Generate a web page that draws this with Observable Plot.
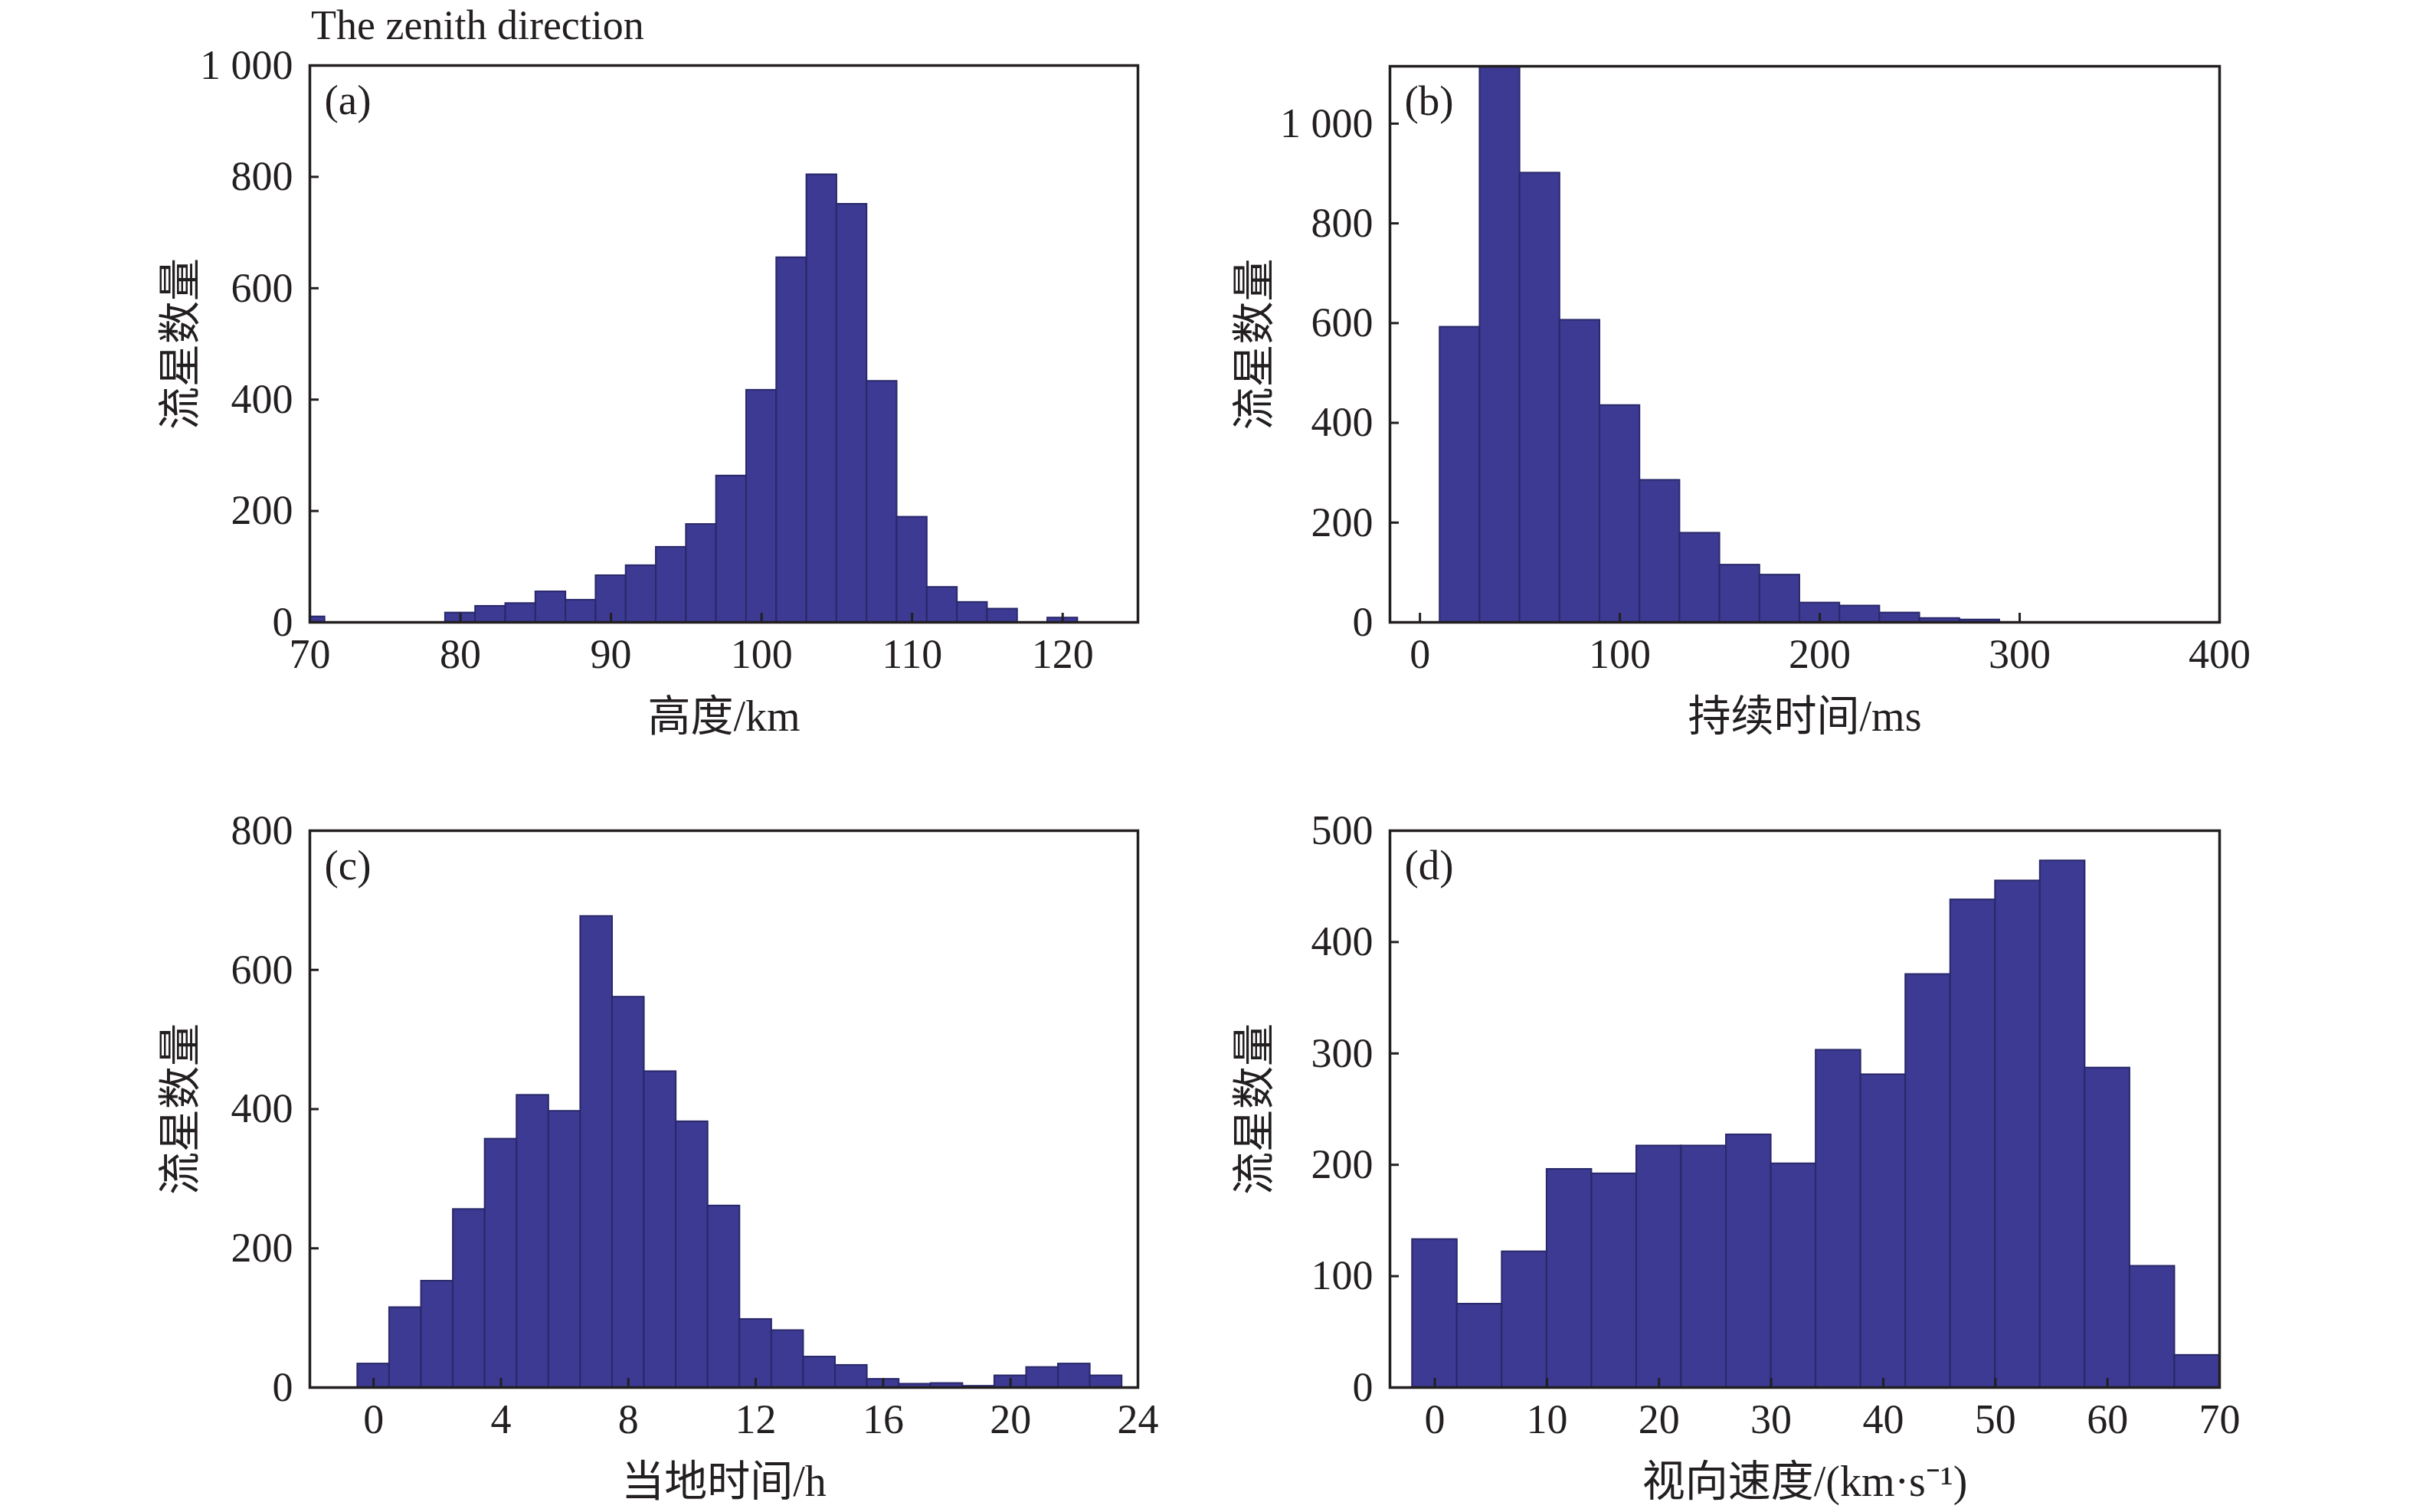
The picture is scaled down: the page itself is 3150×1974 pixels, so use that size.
<!DOCTYPE html>
<html>
<head>
<meta charset="utf-8">
<script src="https://cdn.jsdelivr.net/npm/d3@7"></script>
<script src="https://cdn.jsdelivr.net/npm/@observablehq/plot@0.6"></script>
<style>
  html, body { margin: 0; padding: 0; background: #fff; }
  #wrap { position: relative; width: 3150px; height: 1974px; background: #fff; overflow: hidden; }
  .panel { position: absolute; }
  #title { position: absolute; left: 406px; top: 4px; font-family: "Liberation Serif", "Noto Sans CJK SC", serif; font-size: 54px; line-height: 1.1; color: #231f20; white-space: nowrap; }
</style>
</head>
<body>
<div id="wrap">
  <div id="title">The zenith direction</div>
</div>
<script>
// ---------- data ----------
const titleText = "The zenith direction";
const yLabel = "流星数量";

// (a) height histogram, bins of 2 km (left edges)
const heightBinStart = [69, 79, 81, 83, 85, 87, 89, 91, 93, 95, 97, 99, 101, 103, 105, 107, 109, 111, 113, 115, 119];
const heightCount    = [10, 17, 29, 34, 55, 40, 84, 102, 135, 176, 263, 417, 655, 804, 751, 433, 189, 63, 36, 24, 8];
const heightBinWidth = 2;
const heightXTicks = [70, 80, 90, 100, 110, 120];
const heightYTicks = [0, 200, 400, 600, 800, 1000];

// (b) duration histogram, bins of 20 ms (left edges)
const durationBinStart = [10, 30, 50, 70, 90, 110, 130, 150, 170, 190, 210, 230, 250, 270];
const durationCount    = [592, 1115, 901, 606, 435, 285, 179, 115, 95, 39, 33, 19, 8, 5];
const durationBinWidth = 20;
const durationXTicks = [0, 100, 200, 300, 400];
const durationYTicks = [0, 200, 400, 600, 800, 1000];

// (c) local time histogram, bins of 1 h (centers)
const hourCenter = [0, 1, 2, 3, 4, 5, 6, 7, 8, 9, 10, 11, 12, 13, 14, 15, 16, 17, 18, 19, 20, 21, 22, 23];
const hourCount  = [34, 115, 153, 256, 357, 420, 397, 677, 561, 454, 382, 261, 98, 82, 44, 32, 12, 5, 6, 2, 17, 29, 34, 17];
const hourBinWidth = 1;
const hourXTicks = [0, 4, 8, 12, 16, 20, 24];
const hourYTicks = [0, 200, 400, 600, 800];

// (d) apparent velocity histogram, bins of 4 km/s (centers)
const speedCenter = [0, 4, 8, 12, 16, 20, 24, 28, 32, 36, 40, 44, 48, 52, 56, 60, 64, 68];
const speedCount  = [133, 75, 122, 196, 192, 217, 217, 227, 201, 303, 281, 371, 438, 455, 473, 287, 109, 29];
const speedBinWidth = 4;
const speedXTicks = [0, 10, 20, 30, 40, 50, 60, 70];
const speedYTicks = [0, 100, 200, 300, 400, 500];

// ---------- styling ----------
const FONT = `"Liberation Serif", "Noto Sans CJK SC", serif`;
const INK = "#231f20";
const BAR_FILL = "#3c3a92";
const BAR_STROKE = "#29286a";
const fmt = d => String(d).replace(/\B(?=(\d{3})+(?!\d))/g, " ");

function panel({tag, bins, xDomain, yDomain, xTicks, yTicks, xLabel, left, top, ml, mr, mt, mb, ylabDx}) {
  const W = 1575, H = 987;
  const chart = Plot.plot({
    width: W, height: H,
    marginLeft: ml, marginRight: mr, marginTop: mt, marginBottom: mb,
    style: {fontFamily: FONT, fontSize: "54px", color: INK, background: "transparent", overflow: "visible"},
    x: {domain: xDomain, axis: null},
    y: {domain: yDomain, axis: null},
    marks: [
      Plot.rectY(bins, {x1: "x1", x2: "x2", y: "count", fill: BAR_FILL, stroke: BAR_STROKE, strokeWidth: 2, clip: true}),
      // tick labels (no tick lines)
      Plot.axisX(xTicks, {anchor: "bottom", tickSize: 0, tickPadding: 21, tickFormat: fmt, fontSize: 54, label: null, fill: INK}),
      Plot.axisY(yTicks, {anchor: "left", tickSize: 0, tickPadding: 22, tickFormat: fmt, fontSize: 54, label: null, fill: INK}),
      // inward tick marks
      Plot.axisX(xTicks, {anchor: "bottom", tickSize: -12, tickFormat: () => "", label: null, stroke: INK, strokeWidth: 3}),
      Plot.axisY(yTicks, {anchor: "left", tickSize: -12, tickFormat: () => "", label: null, stroke: INK, strokeWidth: 3}),
      Plot.frame({stroke: INK, strokeWidth: 3.5}),
      Plot.text([tag], {frameAnchor: "top-left", dx: 19, dy: 46, textAnchor: "start", lineAnchor: "middle", fontSize: 55, fill: INK}),
      Plot.text([xLabel], {frameAnchor: "bottom", dy: 124, textAnchor: "middle", lineAnchor: "middle", fontSize: 56, fill: INK}),
      Plot.text([yLabel], {frameAnchor: "left", dx: ylabDx, rotate: -90, textAnchor: "middle", lineAnchor: "middle", fontSize: 56, fill: INK})
    ]
  });
  chart.classList.add("panel");
  chart.style.left = left + "px";
  chart.style.top = top + "px";
  document.getElementById("wrap").appendChild(chart);
}

const binsFromStart = (starts, counts, w) => starts.map((s, i) => ({x1: s, x2: s + w, count: counts[i]}));
const binsFromCenter = (centers, counts, w) => centers.map((c, i) => ({x1: c - w / 2, x2: c + w / 2, count: counts[i]}));

panel({tag: "(a)", bins: binsFromStart(heightBinStart, heightCount, heightBinWidth),
  xDomain: [70, 125], yDomain: [0, 1000], xTicks: heightXTicks, yTicks: heightYTicks,
  xLabel: "高度/km", left: 0, top: 0, ml: 404, mr: 90, mt: 85, mb: 175, ylabDx: -168});

panel({tag: "(b)", bins: binsFromStart(durationBinStart, durationCount, durationBinWidth),
  xDomain: [-15, 400], yDomain: [0, 1115], xTicks: durationXTicks, yTicks: durationYTicks,
  xLabel: "持续时间/ms", left: 1575, top: 0, ml: 239, mr: 253, mt: 86, mb: 175, ylabDx: -176});

panel({tag: "(c)", bins: binsFromCenter(hourCenter, hourCount, hourBinWidth),
  xDomain: [-2, 24], yDomain: [0, 800], xTicks: hourXTicks, yTicks: hourYTicks,
  xLabel: "当地时间/h", left: 0, top: 987, ml: 404, mr: 90, mt: 97, mb: 163, ylabDx: -168});

panel({tag: "(d)", bins: binsFromCenter(speedCenter, speedCount, speedBinWidth),
  xDomain: [-4, 70], yDomain: [0, 500], xTicks: speedXTicks, yTicks: speedYTicks,
  xLabel: "视向速度/(km·s⁻¹)", left: 1575, top: 987, ml: 239, mr: 253, mt: 97, mb: 163, ylabDx: -176});
</script>
</body>
</html>
